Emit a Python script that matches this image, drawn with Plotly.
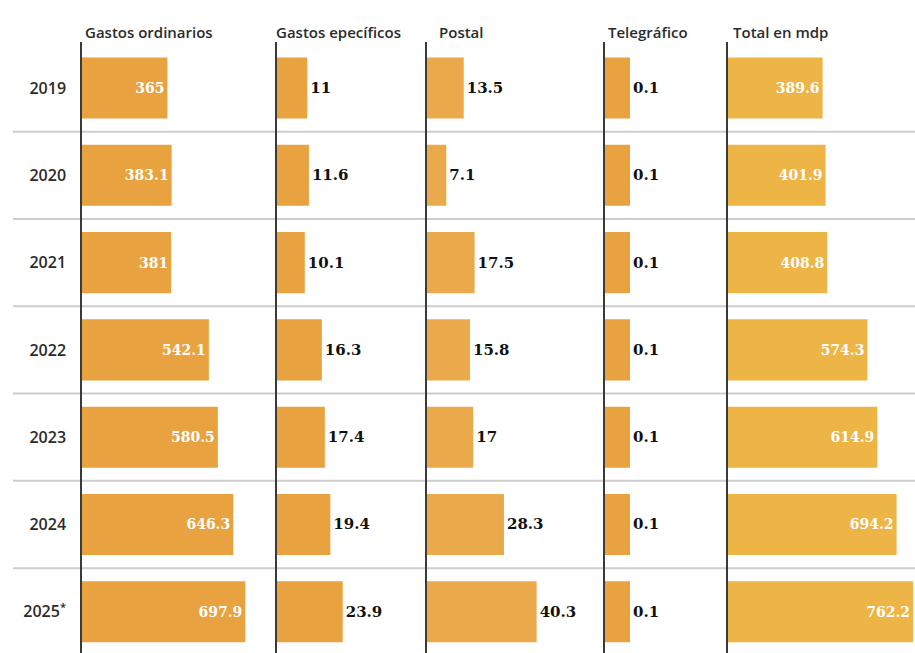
import plotly.graph_objects as go

# Yearly spending, millions of pesos
years = ["2019", "2020", "2021", "2022", "2023", "2024", "2025"]
year_labels = ["2019", "2020", "2021", "2022", "2023", "2024", "2025<sup>*</sup>"]
ordinarios = [365, 383.1, 381, 542.1, 580.5, 646.3, 697.9]
especificos = [11, 11.6, 10.1, 16.3, 17.4, 19.4, 23.9]
postal = [13.5, 7.1, 17.5, 15.8, 17, 28.3, 40.3]
telegrafico = [0.1, 0.1, 0.1, 0.1, 0.1, 0.1, 0.1]
total = [389.6, 401.9, 408.8, 574.3, 614.9, 694.2, 762.2]
headers = ["Gastos ordinarios", "Gastos epecíficos", "Postal", "Telegráfico", "Total en mdp"]

W, H = 915, 653

# panel layout in pixels: (left, right, axis max, header x, bar colour, label inside?)
panels = [
    (82, 265, 782, 83, "#E9A240", True),
    (277, 420, 52, 274, "#E9A240", False),
    (427, 597, 62.5, 437, "#EAAA4C", False),
    (605, 720, 0.46, 606, "#E9A240", False),
    (728, 915, 770, 731, "#EDB446", True),
]
series = [ordinarios, especificos, postal, telegrafico, total]


def fmt(v):
    return f"{v:g}"


fig = go.Figure()
label_font = "DejaVu Serif"
y_top = 1 - 42 / H

for i, ((x0, x1, xmax, hx, color, inside), vals) in enumerate(zip(panels, series)):
    n = "" if i == 0 else str(i + 1)
    fig.add_trace(go.Bar(
        x=vals, y=years, orientation="h",
        xaxis="x" + n, yaxis="y" + n,
        marker=dict(color=color, line=dict(width=0)),
        text=[fmt(v) for v in vals],
        textposition="inside" if inside else "outside",
        insidetextanchor="end",
        textfont=dict(family=label_font, size=14 if inside else 15,
                      color="white" if inside else "#111", weight="bold"),
        constraintext="none",
        cliponaxis=False,
        hoverinfo="skip",
        showlegend=False,
    ))
    fig.layout["xaxis" + n] = dict(
        domain=[x0 / W, min(x1 / W, 1)], range=[0, xmax],
        anchor="y" + n, visible=False, fixedrange=True,
    )
    fig.layout["yaxis" + n] = dict(
        domain=[0, y_top], anchor="x" + n,
        type="category", categoryorder="array", categoryarray=years,
        range=[6.472, -0.527],
        showline=True, linecolor="#3a3a3a", linewidth=1.5,
        showgrid=False, zeroline=False, ticks="",
        showticklabels=(i == 0),
        tickvals=years, ticktext=year_labels,
        tickfont=dict(family="Open Sans", size=16, color="#2b2b2b", weight=600),
        ticklabelstandoff=11,
        fixedrange=True,
    )
    fig.add_annotation(
        text=headers[i], xref="paper", yref="paper",
        x=hx / W, y=1 - 32 / H, xanchor="left", yanchor="middle",
        showarrow=False,
        font=dict(family="Open Sans", size=15, color="#2b2b2b", weight=600),
    )

# row separators
for k in range(len(years) - 1):
    fig.add_shape(
        type="line", xref="paper", yref="y",
        x0=13 / W, x1=1, y0=k + 0.5, y1=k + 0.5,
        line=dict(color="#cdcdcd", width=2), layer="below",
    )

fig.update_layout(
    width=W, height=H,
    margin=dict(l=0, r=0, t=0, b=0),
    paper_bgcolor="white", plot_bgcolor="rgba(0,0,0,0)",
    bargap=0.30,
)

fig.write_html("out.html")
